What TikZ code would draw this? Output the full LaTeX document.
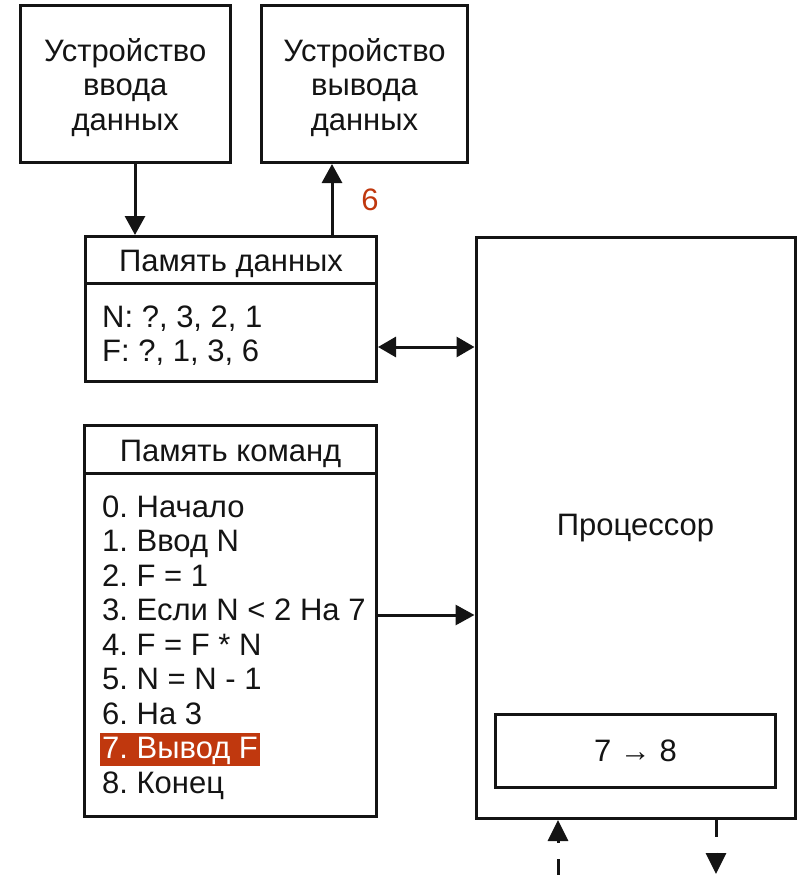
\documentclass[tikz,border=0pt]{standalone}
\usepackage{fontspec}
\setmainfont{Liberation Sans}
\usetikzlibrary{arrows.meta}
\definecolor{accent}{RGB}{192,56,14}
\definecolor{ink}{RGB}{20,20,20}
\frenchspacing
\begin{document}
\begin{tikzpicture}[x=1pt,y=-1pt,
  every node/.style={font=\fontsize{31}{34.5}\selectfont, inner sep=0pt, text=ink},
  frame/.style={draw=ink, line width=3pt},
  row/.style={anchor=base west, inner xsep=2pt, inner ysep=1pt, text height=25pt, text depth=6pt},
  tip/.style={-{Triangle[length=19pt,width=20pt]}},
  link/.style={draw=ink, line width=3pt, tip},
  biglink/.style={draw=ink, line width=3pt, {Triangle[length=18pt,width=20pt]}-{Triangle[length=18pt,width=20pt]}},
  dashlink/.style={draw=ink, line width=3pt, dash pattern=on 16.5pt off 16pt, -{Triangle[length=21pt,width=20pt]}},
]
\useasboundingbox (0,0) rectangle (799,875);

% input and output devices
\node[frame, minimum width=209.5pt, minimum height=157pt] (in) at (125.25,84) {};
\node[align=center] (intext) at (125.25,87.5) {Устройство\\ввода\\данных};
\node[frame, minimum width=206pt, minimum height=157pt] (out) at (364.5,84) {};
\node[align=center] (outtext) at (364.5,87.5) {Устройство\\вывода\\данных};

% data memory
\node[frame, minimum width=291pt, minimum height=145pt] (dmem) at (231,309) {};
\coordinate (dsep) at (0,283.5);
\draw[frame] (dmem.west |- dsep) -- (dmem.east |- dsep);
\node[anchor=base] (dhead) at (231,271) {Память данных};
\node[row] (dn) at (100,327) {N: ?, 3, 2, 1};
\node[row] (df) at (100,361) {F: ?, 1, 3, 6};

% command memory
\node[frame, minimum width=292pt, minimum height=391pt] (cmem) at (230.5,621) {};
\coordinate (csep) at (0,473.5);
\draw[frame] (cmem.west |- csep) -- (cmem.east |- csep);
\node[anchor=base] (chead) at (230.5,461) {Память команд};
\node[row] (c0) at (100,517) {0. Начало};
\node[row] (c1) at (100,551.5) {1. Ввод N};
\node[row] (c2) at (100,586) {2. F = 1};
\node[row] (c3) at (100,620.5) {3. Если N < 2 На 7};
\node[row] (c4) at (100,655) {4. F = F * N};
\node[row] (c5) at (100,689.5) {5. N = N - 1};
\node[row] (c6) at (100,724) {6. На 3};
\node[row, fill=accent, text=white] (c7) at (100,758.5) {7. Вывод F};
\node[row] (c8) at (100,793) {8. Конец};

% processor with its command counter
\node[frame, minimum width=319pt, minimum height=581pt] (proc) at (635.5,528) {Процессор};
\node[frame, minimum width=280pt, minimum height=72.5pt] (pc) at (635.5,751) {7 → 8};

% connectors
\coordinate (inx) at (135,0);
\coordinate (outx) at (332,0);
\draw[link] (inx |- in.south) -- (inx |- dmem.north);
\draw[link] (outx |- dmem.north) -- (outx |- out.south);
\node[text=accent] (six) at (370,200) {6};

\coordinate (dy) at (0,347);
\draw[biglink] (dmem.east |- dy) -- (proc.west |- dy);
\coordinate (cy) at (0,615);
\draw[link] (cmem.east |- cy) -- (proc.west |- cy);

\coordinate (busin) at (558,875);
\coordinate (busout) at (716,874);
\draw[dashlink] (busin) -- (busin |- proc.south);
\draw[dashlink] (busout |- proc.south) -- (busout);
\end{tikzpicture}
\end{document}
